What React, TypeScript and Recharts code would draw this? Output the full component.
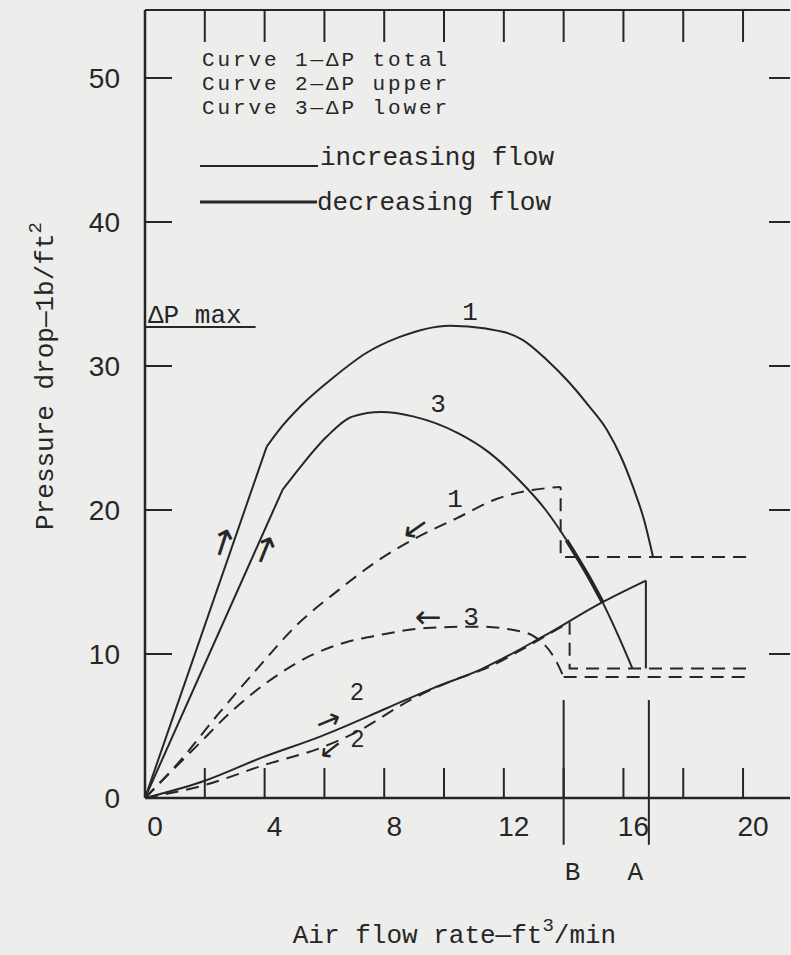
import React from 'react';
import { LineChart, Line, XAxis, YAxis, ReferenceLine, ReferenceDot, Legend } from 'recharts';

type Pt = { x: number; y: number };

// --- axis ticks ---
const X_TICKS = [0, 2, 4, 6, 8, 10, 12, 14, 16, 18, 20];
const X_LABELED = [0, 4, 8, 12, 16, 20];
const Y_TICKS = [0, 10, 20, 30, 40, 50];
const X_MAX = 21.57;
const Y_MAX = 54.72;

// --- curve 1: total pressure drop ---
const curve1Rise: Pt[] = [{ x: 0, y: 0 }, { x: 4.07, y: 24.4 }];
const curve1Arc: Pt[] = [
  { x: 4.07, y: 24.4 }, { x: 4.5, y: 25.6 }, { x: 5.2, y: 27.2 }, { x: 6.3, y: 29.2 }, { x: 7.4, y: 30.9 },
  { x: 8.5, y: 32.0 }, { x: 10.2, y: 32.8 }, { x: 11.4, y: 32.6 }, { x: 12.64, y: 31.8 }, { x: 13.44, y: 30.42 },
  { x: 14.11, y: 29.03 }, { x: 14.82, y: 27.29 }, { x: 15.45, y: 25.56 }, { x: 15.92, y: 23.68 },
  { x: 16.32, y: 21.6 }, { x: 16.69, y: 19.31 }, { x: 16.99, y: 16.74 },
];
const curve1Decreasing: Pt[] = [
  { x: 0, y: 0 }, { x: 1.1, y: 2.4 }, { x: 2.44, y: 5.8 }, { x: 3.68, y: 8.8 }, { x: 5.12, y: 12.1 },
  { x: 6.45, y: 14.4 }, { x: 7.8, y: 16.5 }, { x: 9.1, y: 18.1 }, { x: 10.4, y: 19.4 }, { x: 11.8, y: 20.8 },
  { x: 13.0, y: 21.4 }, { x: 13.9, y: 21.6 },
];
const curve1Jump: Pt[] = [{ x: 20.1, y: 16.74 }, { x: 13.9, y: 16.74 }, { x: 13.9, y: 21.6 }];

// --- curve 2: upper pressure drop ---
const curve2Increasing: Pt[] = [
  { x: 0, y: 0 }, { x: 2, y: 1.2 }, { x: 3.9, y: 2.8 }, { x: 5.9, y: 4.3 }, { x: 8.1, y: 6.25 },
  { x: 9.6, y: 7.6 }, { x: 11.2, y: 8.9 }, { x: 13.3, y: 11.2 }, { x: 15.3, y: 13.6 }, { x: 16.75, y: 15.1 },
];
const curve2Drop: Pt[] = [{ x: 16.75, y: 15.1 }, { x: 16.75, y: 9.0 }];
const curve2Decreasing: Pt[] = [
  { x: 0, y: 0 }, { x: 2, y: 0.9 }, { x: 4, y: 2.3 }, { x: 5.9, y: 3.5 }, { x: 7, y: 4.5 },
  { x: 8.96, y: 6.9 }, { x: 10.1, y: 8.0 }, { x: 11.5, y: 9.1 }, { x: 12.6, y: 10.3 }, { x: 13.6, y: 11.5 },
  { x: 14.2, y: 12.2 },
];
const curve2Jump: Pt[] = [{ x: 20.1, y: 9.0 }, { x: 14.2, y: 9.0 }, { x: 14.2, y: 12.2 }];

// --- curve 3: lower pressure drop ---
const curve3Rise: Pt[] = [{ x: 0, y: 0 }, { x: 4.6, y: 21.4 }];
const curve3Arc: Pt[] = [
  { x: 4.6, y: 21.4 }, { x: 5.2, y: 23.0 }, { x: 6.08, y: 25.1 }, { x: 6.96, y: 26.5 }, { x: 7.9, y: 26.8 },
  { x: 8.96, y: 26.5 }, { x: 10.5, y: 25.3 }, { x: 11.5, y: 24.0 }, { x: 12.5, y: 22.1 }, { x: 13.4, y: 20.0 },
  { x: 14.1, y: 17.9 }, { x: 14.8, y: 15.5 }, { x: 15.3, y: 13.6 }, { x: 15.8, y: 11.4 }, { x: 16.3, y: 9.0 },
];
const curve3Decreasing: Pt[] = [
  { x: 0, y: 0 }, { x: 1.0, y: 2.1 }, { x: 1.87, y: 3.9 }, { x: 2.78, y: 5.8 }, { x: 3.68, y: 7.4 },
  { x: 4.55, y: 8.7 }, { x: 5.55, y: 9.9 }, { x: 6.7, y: 10.8 }, { x: 7.8, y: 11.3 }, { x: 9.4, y: 11.8 },
  { x: 11.1, y: 11.9 }, { x: 12.5, y: 11.6 }, { x: 13.1, y: 11.1 }, { x: 13.7, y: 9.7 }, { x: 14.0, y: 8.4 },
];
const curve3Tail: Pt[] = [{ x: 14.0, y: 8.4 }, { x: 20.3, y: 8.4 }];
const curve3Thick = curve3Arc.filter((p) => p.x >= 14.1 && p.x <= 15.3);

// --- legend / annotations ---
const LEGEND_CURVES = ['Curve 1—ΔP total', 'Curve 2—ΔP upper', 'Curve 3—ΔP lower'];
const LEGEND_FLOWS = ['increasing flow', 'decreasing flow'];

const DP_MAX = 32.7;
const DP_MAX_END = 3.7;
const MARKER_TOP = 6.8;
const MARKER_BOTTOM = -3.25;
const markers = [
  { name: 'B', x: 14.0, labelX: 14.3 },
  { name: 'A', x: 16.85, labelX: 16.4 },
];
const MARKER_LABEL_Y = -5.7;

const MONO = '"Liberation Mono", "DejaVu Sans Mono", monospace';
const SANS = '"Liberation Sans", Arial, sans-serif';
const ARROW = '"DejaVu Sans", sans-serif';
const INK = '#262626';
const PAPER = '#ededeb';

type Note = { text: string; x: number; y: number; font: string; size: number; rotate?: number; anchor?: string; central?: boolean };
const notes: Note[] = [
  { text: '1', x: 10.87, y: 33.2, font: MONO, size: 26 },
  { text: '3', x: 9.8, y: 26.8, font: MONO, size: 26 },
  { text: '1', x: 10.37, y: 20.2, font: MONO, size: 26 },
  { text: '3', x: 10.9, y: 12.0, font: MONO, size: 26 },
  { text: '2', x: 7.09, y: 6.8, font: SANS, size: 24 },
  { text: '2', x: 7.1, y: 3.54, font: SANS, size: 24 },
  { text: 'ΔP max', x: 0.1, y: 33.0, font: MONO, size: 26, anchor: 'start' },
  { text: '←', x: 9.47, y: 12.57, font: ARROW, size: 32, central: true },
  { text: '→', x: 6.12, y: 5.42, font: ARROW, size: 30, rotate: -22, central: true },
  { text: '←', x: 6.19, y: 3.4, font: ARROW, size: 28, rotate: -38, central: true },
  { text: '←', x: 9.03, y: 18.75, font: ARROW, size: 32, rotate: -35, central: true },
  { text: '↑', x: 2.61, y: 17.7, font: ARROW, size: 36, rotate: 18, central: true },
  { text: '↑', x: 4.01, y: 17.2, font: ARROW, size: 36, rotate: 22, central: true },
];

const BottomTick = (p: any) => {
  const v = p.payload.value;
  return (
    <g>
      {v !== 0 && <line x1={p.x} y1={p.y} x2={p.x} y2={p.y - 30} stroke={INK} strokeWidth={2} />}
      {X_LABELED.includes(v) && (
        <text x={p.x + 10} y={p.y + 38} textAnchor="middle" fontFamily={SANS} fontSize={28} fill={INK}>
          {v}
        </text>
      )}
    </g>
  );
};

const TopTick = (p: any) =>
  p.payload.value === 0 ? <g /> : <line x1={p.x} y1={p.y} x2={p.x} y2={p.y + 32} stroke={INK} strokeWidth={2} />;

const LeftTick = (p: any) => {
  const v = p.payload.value;
  return (
    <g>
      {v !== 0 && <line x1={p.x} y1={p.y} x2={p.x + 27} y2={p.y} stroke={INK} strokeWidth={2} />}
      <text x={p.x - 25} y={p.y + 10} textAnchor="end" fontFamily={SANS} fontSize={28} fill={INK}>
        {v}
      </text>
    </g>
  );
};

const RightTick = (p: any) =>
  p.payload.value === 0 ? <g /> : <line x1={p.x} y1={p.y} x2={p.x - 21} y2={p.y} stroke={INK} strokeWidth={2} />;

const XTitle = (p: any) => {
  const vb = p.viewBox || { x: 145, y: 798, width: 646 };
  return (
    <text x={vb.x + vb.width / 2 - 13} y={vb.y + 145} textAnchor="middle" fontFamily={MONO} fontSize={26} fill={INK}>
      Air flow rate—ft<tspan dy={-12} fontSize={19}>3</tspan>
      <tspan dy={12}>/min</tspan>
    </text>
  );
};

const YTitle = () => (
  <text x={47} y={382} transform="rotate(-90, 47, 376)" textAnchor="middle" fontFamily={MONO} fontSize={26} fill={INK}>
    Pressure drop—1b/ft<tspan dy={-12} fontSize={19}>2</tspan>
  </text>
);

const LegendBlock = () => (
  <svg width={791} height={230} style={{ display: 'block', overflow: 'visible' }}>
    {LEGEND_CURVES.map((t, i) => (
      <text key={t} x={202} y={66 + i * 24} fontFamily={MONO} fontSize={21} letterSpacing={2.9} fill={INK}>
        {t}
      </text>
    ))}
    <line x1={200} y1={166} x2={318} y2={166} stroke={INK} strokeWidth={2} />
    <text x={320} y={165} fontFamily={MONO} fontSize={26} fill={INK}>
      {LEGEND_FLOWS[0]}
    </text>
    <line x1={200} y1={202} x2={317} y2={202} stroke={INK} strokeWidth={3} />
    <text x={317} y={210} fontFamily={MONO} fontSize={26} fill={INK}>
      {LEGEND_FLOWS[1]}
    </text>
  </svg>
);

const solid = { stroke: INK, strokeWidth: 2, dot: false, activeDot: false, isAnimationActive: false } as const;
const dashed = { ...solid, strokeDasharray: '13 8' };

export default function App() {
  return (
    <div style={{ position: 'absolute', left: 0, top: 0, width: 791, height: 955, background: PAPER }}>
      <LineChart width={791} height={955} margin={{ top: 9, right: 0, bottom: 0, left: 0 }}>
        <XAxis
          type="number"
          dataKey="x"
          domain={[0, X_MAX]}
          ticks={X_TICKS}
          interval={0}
          allowDataOverflow
          height={157}
          tickSize={0}
          tickMargin={0}
          tickLine={false}
          axisLine={{ stroke: INK, strokeWidth: 2.5 }}
          tick={(p: any) => <BottomTick {...p} />}
          label={<XTitle />}
        />
        <XAxis
          xAxisId="top"
          orientation="top"
          type="number"
          dataKey="x"
          domain={[0, X_MAX]}
          ticks={X_TICKS}
          interval={0}
          allowDataOverflow
          height={1}
          tickSize={0}
          tickMargin={0}
          tickLine={false}
          axisLine={{ stroke: INK, strokeWidth: 2 }}
          tick={(p: any) => <TopTick {...p} />}
        />
        <YAxis
          type="number"
          domain={[0, Y_MAX]}
          ticks={Y_TICKS}
          interval={0}
          allowDataOverflow
          width={145}
          tickSize={0}
          tickMargin={0}
          tickLine={false}
          axisLine={{ stroke: INK, strokeWidth: 2.5 }}
          tick={(p: any) => <LeftTick {...p} />}
          label={<YTitle />}
        />
        <YAxis
          yAxisId="right"
          orientation="right"
          type="number"
          domain={[0, Y_MAX]}
          ticks={Y_TICKS}
          interval={0}
          allowDataOverflow
          width={1}
          tickSize={0}
          tickMargin={0}
          tickLine={false}
          axisLine={false}
          tick={(p: any) => <RightTick {...p} />}
        />
        <Legend
          layout="vertical"
          verticalAlign="middle"
          align="center"
          wrapperStyle={{ left: 0, top: 0, width: 791, height: 230 }}
          content={() => <LegendBlock />}
        />

        <Line data={curve1Rise} dataKey="y" type="linear" {...solid} />
        <Line data={curve1Arc} dataKey="y" type="monotone" {...solid} />
        <Line data={curve1Decreasing} dataKey="y" type="monotone" {...dashed} />
        <Line data={curve1Jump} dataKey="y" type="linear" {...dashed} />

        <Line data={curve2Increasing} dataKey="y" type="monotone" {...solid} />
        <Line data={curve2Drop} dataKey="y" type="linear" {...solid} />
        <Line data={curve2Decreasing} dataKey="y" type="monotone" {...dashed} />
        <Line data={curve2Jump} dataKey="y" type="linear" {...dashed} />

        <Line data={curve3Rise} dataKey="y" type="linear" {...solid} />
        <Line data={curve3Arc} dataKey="y" type="monotone" {...solid} />
        <Line data={curve3Thick} dataKey="y" type="monotone" {...solid} strokeWidth={4} />
        <Line data={curve3Decreasing} dataKey="y" type="monotone" {...dashed} />
        <Line data={curve3Tail} dataKey="y" type="linear" {...dashed} />

        <ReferenceLine
          segment={[{ x: 0, y: DP_MAX }, { x: DP_MAX_END, y: DP_MAX }]}
          stroke={INK}
          strokeWidth={2}
          ifOverflow="visible"
        />
        {markers.map((m) => (
          <ReferenceLine
            key={m.name}
            segment={[{ x: m.x, y: MARKER_TOP }, { x: m.x, y: MARKER_BOTTOM }]}
            stroke={INK}
            strokeWidth={2}
            ifOverflow="visible"
          />
        ))}
        {markers.map((m) => (
          <ReferenceDot
            key={`lbl-${m.name}`}
            x={m.labelX}
            y={MARKER_LABEL_Y}
            r={0}
            ifOverflow="visible"
            shape={(p: any) => (
              <text x={p.cx} y={p.cy} textAnchor="middle" fontFamily={MONO} fontSize={26} fill={INK}>
                {m.name}
              </text>
            )}
          />
        ))}
        {notes.map((n, i) => (
          <ReferenceDot
            key={`note-${i}`}
            x={n.x}
            y={n.y}
            r={0}
            ifOverflow="visible"
            shape={(p: any) => (
              <text
                x={p.cx}
                y={p.cy}
                textAnchor={n.anchor || 'middle'}
                dominantBaseline={n.central ? 'central' : undefined}
                transform={n.rotate ? `rotate(${n.rotate}, ${p.cx}, ${p.cy})` : undefined}
                fontFamily={n.font}
                fontSize={n.size}
                fill={INK}
              >
                {n.text}
              </text>
            )}
          />
        ))}
      </LineChart>
    </div>
  );
}
